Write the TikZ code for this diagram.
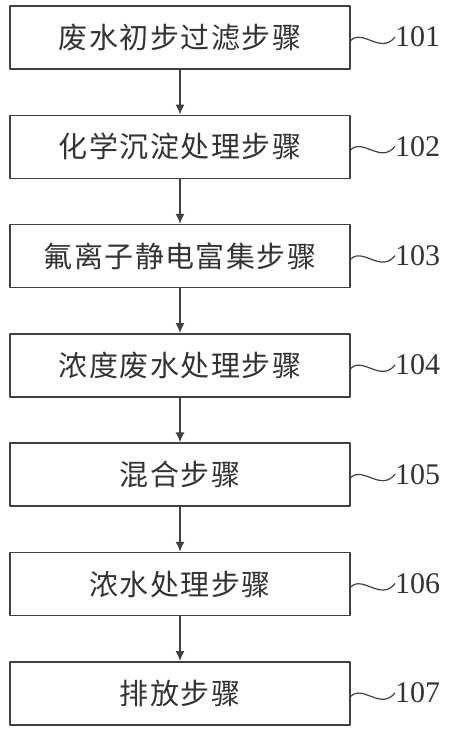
\documentclass[tikz,border=0pt]{standalone}
\usepackage{fontspec}
\setmainfont{Liberation Serif}
\newfontfamily\cjk[LetterSpace=5]{Noto Sans CJK SC}
\usetikzlibrary{arrows.meta}
\begin{document}
\begin{tikzpicture}[x=1pt,y=-1pt,line join=round,>={Latex[length=10pt,width=9pt]},
	stepbox/.style={draw=black!75,line width=1.5pt,minimum width=340pt,minimum height=63pt,inner sep=0pt,
		font=\cjk\fontsize{29pt}{29pt}\selectfont,text=black!80},
	steplabel/.style={anchor=west,inner sep=0pt,font=\fontsize{30pt}{30pt}\selectfont,text=black!80}]
	\useasboundingbox (0,0) rectangle (450,741);
	\foreach \i/\t in {1/废水初步过滤步骤,2/化学沉淀处理步骤,3/氟离子静电富集步骤,4/浓度废水处理步骤,5/混合步骤,6/浓水处理步骤,7/排放步骤}{
		\node[stepbox] (s\i) at (180,{37.5+109.3*(\i-1)}) {\t};
		\node[steplabel] (l\i) at (395,{37+109.3*(\i-1)}) {10\i};
		\draw[black!75,line width=1.2pt] ([yshift=-3pt]s\i.east) .. controls +(12,-12) and +(-14,18) .. (l\i.west);
	}
	\foreach \i/\j in {1/2,2/3,3/4,4/5,5/6,6/7}
	{\draw[->,black!75,line width=1.5pt] (s\i) -- (s\j);}
\end{tikzpicture}
\end{document}
